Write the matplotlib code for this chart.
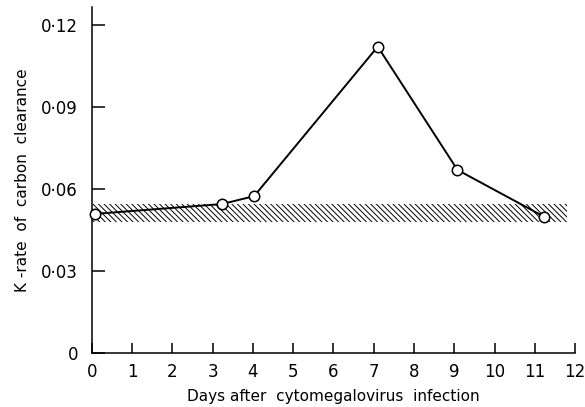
import matplotlib
matplotlib.use('Agg')
from matplotlib import pyplot as plt

# days after infection and K-rate values
days = [0.07, 3.23, 4.03, 7.1, 9.08, 11.24]
k_rate = [0.0509, 0.0545, 0.0574, 0.1121, 0.0670, 0.0498]

# normal range (hatched band)
band_low = 0.0479
band_high = 0.0545
band_end = 11.8

x_ticks = list(range(0, 13))
x_labels = [str(v) for v in x_ticks]
y_ticks = [0, 0.03, 0.06, 0.09, 0.12]
y_labels = ['0', '0·03', '0·06', '0·09', '0·12']

plt.rcParams['hatch.linewidth'] = 0.7

fig = plt.figure(figsize=(5.85, 4.07), dpi=100)
ax = fig.add_axes([0.157, 0.1327, 0.826, 0.85])

ax.fill_between([0, band_end], band_low, band_high, facecolor='none',
                edgecolor='black', hatch='\\' * 6, linewidth=0)
ax.plot(days, k_rate, color='black', lw=1.4, marker='o', markersize=7.5,
        markerfacecolor='white', markeredgecolor='black', markeredgewidth=1.1,
        clip_on=False, zorder=3)

ax.set_xlim(0, 12)
ax.set_ylim(0, 0.1266)
ax.set_xticks(x_ticks)
ax.set_xticklabels(x_labels, fontsize=12)
ax.set_yticks(y_ticks)
ax.set_yticklabels(y_labels, fontsize=12)
ax.tick_params(axis='x', direction='in', length=7, width=1.1, pad=7)
ax.tick_params(axis='y', direction='in', length=9, width=1.1, pad=10)

for side in ['top', 'right']:
    ax.spines[side].set_visible(False)
for side in ['left', 'bottom']:
    ax.spines[side].set_linewidth(1.1)

ax.set_xlabel('Days after  cytomegalovirus  infection', fontsize=11, labelpad=6)
ax.set_ylabel('K -rate  of  carbon  clearance', fontsize=11, labelpad=8)

fig.savefig('out.png', dpi=100)
